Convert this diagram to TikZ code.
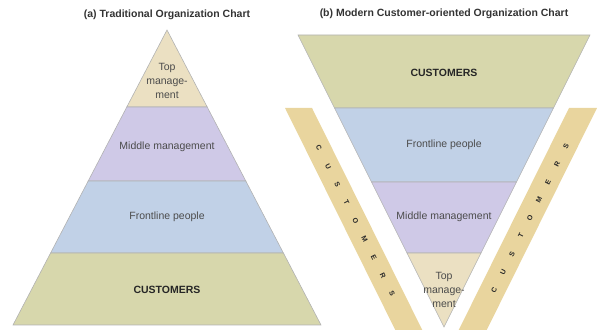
\documentclass[tikz,border=0pt]{standalone}
\usepackage{fontspec}
\setmainfont{Liberation Sans}
\usetikzlibrary{calc}
\definecolor{topc}{HTML}{EBE0C2}
\definecolor{midc}{HTML}{CFC9E7}
\definecolor{frontc}{HTML}{C1D1E7}
\definecolor{custc}{HTML}{D7D7AC}
\definecolor{stripc}{HTML}{E9D59E}
\tikzset{band/.style={draw=gray!60,line width=0.6pt},
  lbl/.style={font=\fontsize{10.5}{14}\selectfont,text=black!70,align=center},
  cust/.style={font=\bfseries\fontsize{10.5}{12}\selectfont,text=black!85},
  ttl/.style={font=\bfseries\fontsize{10.5}{12}\selectfont,text=black!80},
  ltr/.style={font=\bfseries\fontsize{7}{8}\selectfont,text=black!85}}
\begin{document}
\begin{tikzpicture}[x=1pt,y=-1pt]
	\useasboundingbox (0,0) rectangle (597,336);
	% (a) traditional
	\filldraw[band,fill=topc] (167,30)--(207.2,107)--(126.8,107)--cycle;
	\filldraw[band,fill=midc] (126.8,107)--(207.2,107)--(245.8,181)--(88.2,181)--cycle;
	\filldraw[band,fill=frontc] (88.2,181)--(245.8,181)--(283.4,253)--(50.6,253)--cycle;
	\filldraw[band,fill=custc] (50.6,253)--(283.4,253)--(321,325)--(13,325)--cycle;
	\node[ttl] (ta) at (167,15) {(a) Traditional Organization Chart};
	\node[lbl] (atop) at (167,81) {Top\\manage-\\ment};
	\node[lbl] (amid) at (167,147) {Middle management};
	\node[lbl] (afront) at (167,217) {Frontline people};
	\node[cust] (acust) at (167,290) {CUSTOMERS};
	% (b) customer-oriented
	\filldraw[band,fill=custc] (298,35)--(590,35)--(553.5,108)--(334.5,108)--cycle;
	\filldraw[band,fill=frontc] (334.5,108)--(553.5,108)--(516.5,182)--(371.5,182)--cycle;
	\filldraw[band,fill=midc] (371.5,182)--(516.5,182)--(481,253)--(407,253)--cycle;
	\filldraw[band,fill=topc] (407,253)--(481,253)--(444,327)--cycle;
	\fill[stripc] (285,108)--(312,108)--(422.3,330)--(395.3,330)--cycle;
	\fill[stripc] (569,108)--(597,108)--(486.7,330)--(458.7,330)--cycle;
	\node[ttl] (tb) at (444,14) {(b) Modern Customer-oriented Organization Chart};
	\node[cust] (bcust) at (444,73) {CUSTOMERS};
	\node[lbl] (bfront) at (444,145) {Frontline people};
	\node[lbl] (bmid) at (444,217) {Middle management};
	\node[lbl] (btop) at (444,290) {Top\\manage-\\ment};
	\coordinate (ls1) at (319,148); \coordinate (ls2) at (392,294);
	\coordinate (rs1) at (494,290); \coordinate (rs2) at (566,146);
	\foreach \c [count=\i from 0] in {C,U,S,T,O,M,E,R,S}{
		\node[ltr,rotate=-63.5] (lc\i) at ($(ls1)!\i/8!(ls2)$) {\c};
		\node[ltr,rotate=63.5] (rc\i) at ($(rs1)!\i/8!(rs2)$) {\c};
	}
\end{tikzpicture}
\end{document}
